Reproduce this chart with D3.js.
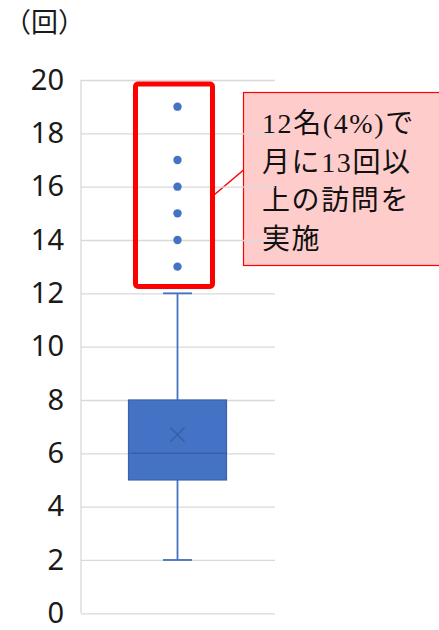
<!DOCTYPE html>
<html>
<head>
<meta charset="utf-8">
<script src="https://cdn.jsdelivr.net/npm/d3@7"></script>
<style>
  html, body { margin: 0; padding: 0; background: #fff; }
  svg { display: block; }
</style>
</head>
<body>
<svg id="chart" width="439" height="630"></svg>
<script>
// Monthly visit counts per person: box-plot summary and outliers
const categories = ["訪問回数"];
const boxMin = [2];
const boxQ1 = [5];
const boxMedian = [6];
const boxQ3 = [8];
const boxMax = [12];
const boxMean = [6.7];
const outliers = [19, 17, 16, 15, 14, 13];
const yTicks = [0, 2, 4, 6, 8, 10, 12, 14, 16, 18, 20];
const unitLabel = "（回）";
const calloutLines = ["12名(4%)で", "月に13回以", "上の訪問を", "実施"];

const svg = d3.select("#chart");

const y = d3.scaleLinear().domain([0, 20]).range([613.3, 80]);
const x = d3.scaleBand().domain(categories).range([81, 274]).paddingInner(0).paddingOuter(0.25);
const cx = x(categories[0]) + x.bandwidth() / 2;
const boxW = 98;
const capW = 29;

const blue = "#4472C4";
const blueDark = "#3A62AB";
const grid = "#D9D9D9";

// Callout box (behind the plot)
const callout = svg.append("g");
callout.append("rect")
  .attr("x", 243.5).attr("y", 92.5)
  .attr("width", 200).attr("height", 173)
  .attr("fill", "#FFCCCC").attr("stroke", "#FF0000").attr("stroke-width", 1.2);
callout.append("line")
  .attr("x1", 214).attr("y1", 195).attr("x2", 243.5).attr("y2", 170)
  .attr("stroke", "#FF0000").attr("stroke-width", 1.5);
callout.selectAll("text").data(calloutLines).join("text")
  .attr("x", 262)
  .attr("y", (d, i) => 133 + i * 38.5)
  .attr("font-family", "'Liberation Serif', 'Noto Sans CJK JP', serif")
  .attr("font-size", 28)
  .attr("letter-spacing", 1.6)
  .attr("fill", "#111")
  .text(d => d);

// Gridlines and left axis line
const yAxis = d3.axisLeft(y).tickValues(yTicks).tickSize(-(275 - 81)).tickPadding(17).tickFormat(d3.format("d"));
const axisG = svg.append("g").attr("transform", "translate(81,0)").call(yAxis);
axisG.select(".domain").remove();
axisG.selectAll(".tick line").attr("stroke", grid).attr("stroke-width", 1.3);
axisG.selectAll(".tick text")
  .attr("font-family", "'Noto Sans', 'DejaVu Sans', sans-serif")
  .attr("font-size", 29)
  .attr("fill", "#1a1a1a");
svg.append("line")
  .attr("x1", 81).attr("x2", 81).attr("y1", y(20)).attr("y2", y(0))
  .attr("stroke", grid).attr("stroke-width", 1.3);

// Unit label
svg.append("text")
  .attr("x", 4).attr("y", 32)
  .attr("font-family", "'Noto Sans CJK JP', sans-serif")
  .attr("font-size", 27)
  .attr("fill", "#1a1a1a")
  .text(unitLabel);

// Box plot
const bp = svg.append("g");
categories.forEach((c, i) => {
  // whiskers
  bp.append("line").attr("x1", cx).attr("x2", cx).attr("y1", y(boxMax[i])).attr("y2", y(boxQ3[i]))
    .attr("stroke", blue).attr("stroke-width", 1.8);
  bp.append("line").attr("x1", cx).attr("x2", cx).attr("y1", y(boxQ1[i])).attr("y2", y(boxMin[i]))
    .attr("stroke", blue).attr("stroke-width", 1.8);
  bp.append("line").attr("x1", cx - capW / 2).attr("x2", cx + capW / 2).attr("y1", y(boxMax[i])).attr("y2", y(boxMax[i]))
    .attr("stroke", blue).attr("stroke-width", 1.8);
  bp.append("line").attr("x1", cx - capW / 2).attr("x2", cx + capW / 2).attr("y1", y(boxMin[i])).attr("y2", y(boxMin[i]))
    .attr("stroke", blue).attr("stroke-width", 1.8);
  // box
  bp.append("rect")
    .attr("x", cx - boxW / 2).attr("y", y(boxQ3[i]))
    .attr("width", boxW).attr("height", y(boxQ1[i]) - y(boxQ3[i]))
    .attr("fill", blue).attr("stroke", blueDark).attr("stroke-width", 1.2);
  // median
  bp.append("line").attr("x1", cx - boxW / 2).attr("x2", cx + boxW / 2)
    .attr("y1", y(boxMedian[i])).attr("y2", y(boxMedian[i]))
    .attr("stroke", "#3660A8").attr("stroke-width", 1.5);
  // mean marker
  const m = y(boxMean[i]), s = 7;
  bp.append("path")
    .attr("d", `M${cx - s},${m - s}L${cx + s},${m + s}M${cx - s},${m + s}L${cx + s},${m - s}`)
    .attr("stroke", "#3660A8").attr("stroke-width", 1.5).attr("fill", "none");
});

// Outlier points
bp.selectAll("circle").data(outliers).join("circle")
  .attr("cx", cx).attr("cy", d => y(d)).attr("r", 4.2)
  .attr("fill", blue);

// Red highlight frame around the outliers
svg.append("rect")
  .attr("x", 135.5).attr("y", 84)
  .attr("width", 77).attr("height", 202.5)
  .attr("rx", 2.5)
  .attr("fill", "none").attr("stroke", "#FF0000").attr("stroke-width", 5);
</script>
</body>
</html>
